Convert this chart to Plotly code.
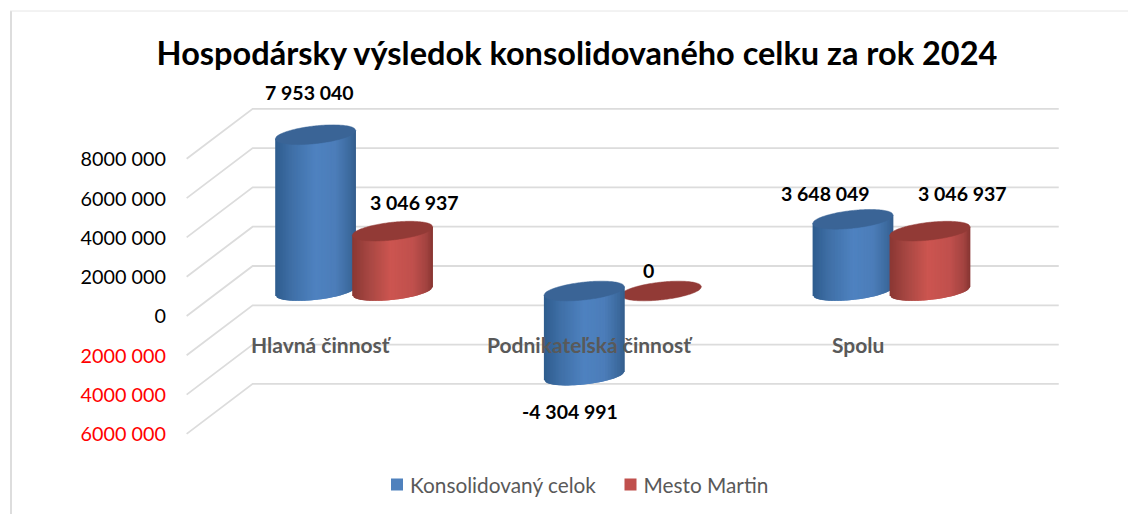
import plotly.graph_objects as go

# ---------- data ----------
categories = ["Hlavná činnosť", "Podnikateľská činnosť", "Spolu"]
konsolidovany = [7953040, -4304991, 3648049]
mesto_martin = [3046937, 0, 3046937]
konsolidovany_labels = ["7 953 040", "-4 304 991", "3 648 049"]
mesto_labels = ["3 046 937", "0", "3 046 937"]
tick_values = [8000000, 6000000, 4000000, 2000000, 0, -2000000, -4000000, -6000000]
tick_labels = ["8000 000", "6000 000", "4000 000", "2000 000", "0",
               "2000 000", "4000 000", "6000 000"]
title_text = "Hospodársky výsledok konsolidovaného celku za rok 2024"

# ---------- geometry (canvas scale) ----------
W, H = 1128, 514
PX_X = 268.7            # px per category
PX_Y = 39.3 / 2e6       # px per unit
X0_PX, Y0_PX = 354, 291 # where category 0 / value 0 fall
xr = [-X0_PX / PX_X, (W - X0_PX) / PX_X]
yr = [-(H - Y0_PX) / PX_Y, Y0_PX / PX_Y]
DEPTH_X = 33 / PX_X
DEPTH_Y = 25 / PX_Y
BAR_OFF = 38.5 / PX_X
BAR_HALF = 40.3 / PX_X
SHEAR = 4.25 / PX_Y
CAP_B = 8.87 / PX_Y
N_STRIPS = 54

BLUE, RED = "#4F81BD", "#C0504D"
BLUE_CAP, RED_CAP = "#3A6496", "#923A36"
BLUE_STOPS = [(-1, "#2E5C8E"), (-.6, "#3F6FA6"), (0, "#4E82C0"), (.5, "#4C7DB9"), (.85, "#3C6A9E"), (1, "#345D8C")]
RED_STOPS = [(-1, "#8A3733"), (-.6, "#A64642"), (-.05, "#CC5550"), (.5, "#C0504D"), (.85, "#A24340"), (1, "#853431")]


def hex2rgb(h):
    return tuple(int(h[i:i + 2], 16) for i in (1, 3, 5))


def grad(u, stops):
    for (a, ca), (b, cb) in zip(stops, stops[1:]):
        if a <= u <= b:
            f = (u - a) / (b - a)
            ra, rb = hex2rgb(ca), hex2rgb(cb)
            return "rgb(%d,%d,%d)" % tuple(round(p + (q - p) * f) for p, q in zip(ra, rb))
    return stops[-1][1]


def low(u):
    return -CAP_B * max(0.0, 1 - u * u) ** 0.5


def cylinder(cx, value, stops, cap):
    """Shapes for one cylinder, placed from the category position and its value."""
    out = []
    top, bottom = max(value, 0), min(value, 0)
    if value != 0:
        for i in range(N_STRIPS):
            u0 = -1 + 2 * i / N_STRIPS
            um = -1 + 2 * (i + 1) / N_STRIPS
            u1 = min(1.0, u0 + 4 / N_STRIPS)   # overlap the next strip so no seams show
            x0, x1 = cx + BAR_HALF * u0, cx + BAR_HALF * u1
            path = (f"M{x0},{top + SHEAR * u0} L{x1},{top + SHEAR * u1} "
                    f"L{x1},{bottom + SHEAR * u1 + low(u1)} L{x0},{bottom + SHEAR * u0 + low(u0)} Z")
            col = grad((u0 + um) / 2, stops)
            out.append(dict(type="path", path=path, xref="x", yref="y", fillcolor=col,
                            line=dict(width=0), layer="above"))
    pts = []
    n = 64
    for k in range(n):
        u = -1 + 2 * k / (n - 1)
        pts.append((cx + BAR_HALF * u, top + SHEAR * u - low(u)))
    for k in range(n):
        u = 1 - 2 * k / (n - 1)
        pts.append((cx + BAR_HALF * u, top + SHEAR * u + low(u)))
    path = "M" + " L".join(f"{a},{b}" for a, b in pts) + " Z"
    out.append(dict(type="path", path=path, xref="x", yref="y", fillcolor=cap,
                    line=dict(color=cap, width=0.5), layer="above"))
    return out


fig = go.Figure()

# perspective grid
for v in tick_values:
    fig.add_trace(go.Scatter(
        x=[-0.5 - DEPTH_X, -0.5 + DEPTH_X, 2.5 + DEPTH_X], y=[v - DEPTH_Y, v + DEPTH_Y, v + DEPTH_Y],
        mode="lines", line=dict(color="#DCDCDC", width=1.8), showlegend=False, hoverinfo="skip"))

idx = list(range(len(categories)))
fig.add_trace(go.Bar(name="Konsolidovaný celok", x=[i - BAR_OFF for i in idx], y=konsolidovany,
                     width=BAR_HALF * 1.4, marker=dict(color=BLUE, line=dict(width=0))))
fig.add_trace(go.Bar(name="Mesto Martin", x=[i + BAR_OFF for i in idx], y=mesto_martin,
                     width=BAR_HALF * 1.4, marker=dict(color=RED, line=dict(width=0))))

# invisible trace carrying the front-plane value axis
fig.add_trace(go.Scatter(x=[0], y=[0], yaxis="y2", mode="markers", marker=dict(opacity=0),
                         showlegend=False, hoverinfo="skip"))

shapes = []
for i in idx:
    b = cylinder(i - BAR_OFF, konsolidovany[i], BLUE_STOPS, BLUE_CAP)
    r = cylinder(i + BAR_OFF, mesto_martin[i], RED_STOPS, RED_CAP)
    shapes += (r + b) if mesto_martin[i] == 0 else (b + r)

# chart frame
shapes.append(dict(type="line", xref="paper", yref="paper", x0=11 / W, x1=11 / W, y0=0, y1=1 - 11 / H,
                   line=dict(color="#DDDDDD", width=2)))
shapes.append(dict(type="line", xref="paper", yref="paper", x0=10 / W, x1=1, y0=1 - 11 / H, y1=1 - 11 / H,
                   line=dict(color="#E6E6E6", width=1)))

LABEL_FONT = dict(family="Lato", size=19.5, color="#000000")
annotations = []
blue_shift = [(-6, 42), (-14, -36), (-27, 26)]
red_shift = [(22, 29), (-13, 21), (33, 38)]
for i in idx:
    annotations.append(dict(x=i - BAR_OFF, y=konsolidovany[i], xref="x", yref="y", showarrow=False,
                            text=f"<b>{konsolidovany_labels[i]}</b>", font=LABEL_FONT,
                            xshift=blue_shift[i][0], yshift=blue_shift[i][1]))
    annotations.append(dict(x=i + BAR_OFF, y=mesto_martin[i], xref="x", yref="y", showarrow=False,
                            text=f"<b>{mesto_labels[i]}</b>", font=LABEL_FONT,
                            xshift=red_shift[i][0], yshift=red_shift[i][1]))
    annotations.append(dict(x=i - 33 / PX_X, y=-(344 - Y0_PX) / PX_Y, xref="x", yref="y", showarrow=False,
                            text=f"<b>{categories[i]}</b>",
                            font=dict(family="Lato", size=21, color="#595959")))

tick_text = [t if v >= 0 else f'<span style="color:#FF0000">{t}</span>'
             for v, t in zip(tick_values, tick_labels)]

fig.update_layout(
    width=W, height=H,
    autosize=False,
    margin=dict(l=0, r=0, t=0, b=0, pad=0),
    paper_bgcolor="white", plot_bgcolor="white",
    barmode="overlay",
    showlegend=True,
    title=dict(text=f"<b>{title_text}</b>", x=577 / W, xanchor="center", y=1 - 54 / H, yanchor="middle",
               font=dict(family="Lato", size=32.5, color="#000000")),
    xaxis=dict(range=xr, visible=False, fixedrange=True, domain=[0, 1]),
    yaxis=dict(range=yr, visible=False, fixedrange=True, domain=[0, 1]),
    yaxis2=dict(range=[yr[0] + 25.5 / PX_Y, yr[1] + 25.5 / PX_Y],
                overlaying="y", anchor="free", position=166 / W, side="left",
                tickmode="array", tickvals=tick_values, ticktext=tick_text,
                tickfont=dict(family="Lato", size=19.8, color="#000000"),
                showgrid=False, zeroline=False, showline=False, ticks="", fixedrange=True),
    legend=dict(orientation="h", x=377 / W, xanchor="left", y=1 - 485 / H, yanchor="middle",
                font=dict(family="Lato", size=20.8, color="#595959"), bgcolor="rgba(0,0,0,0)",
                traceorder="normal", entrywidth=188.5, entrywidthmode="pixels"),
    shapes=shapes,
    annotations=annotations,
)

# legend text sits closer to its swatch than Plotly's default gap
post = """
var gd = document.getElementById('{plot_id}');
function nudge(){document.querySelectorAll('.legendtext').forEach(function(t){t.setAttribute('x','33');});}
document.body.style.margin='0';
document.documentElement.style.overflow='hidden';
nudge();
if (gd && gd.on) gd.on('plotly_afterplot', nudge);
"""
fig.write_html("out.html", config=dict(displayModeBar=False), post_script=post)
